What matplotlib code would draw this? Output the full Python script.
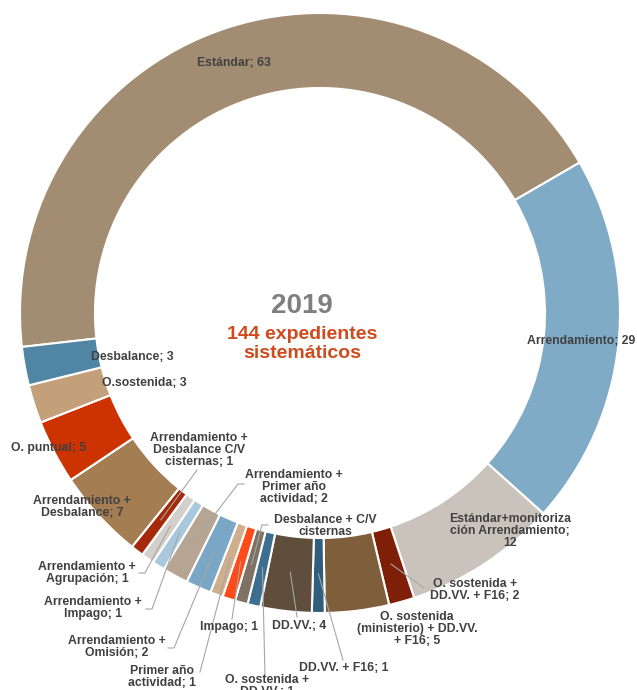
import numpy as np
import matplotlib.pyplot as plt

plt.rcParams['font.family'] = ['Liberation Sans', 'DejaVu Sans']

# ---------------------------------------------------
# Datos (orden horario desde "Estándar")
# ---------------------------------------------------
categorias = [
    "Estándar", "Arrendamiento", "Estándar+monitorización Arrendamiento",
    "O. sostenida + DD.VV. + F16", "O. sostenida (ministerio) + DD.VV. + F16",
    "DD.VV. + F16", "DD.VV.", "O. sostenida + DD.VV.",
    "Desbalance + C/V cisternas", "Impago", "Primer año actividad",
    "Arrendamiento + Omisión", "Arrendamiento + Primer año actividad",
    "Arrendamiento + Impago", "Arrendamiento + Agrupación",
    "Arrendamiento + Desbalance C/V cisternas", "Arrendamiento + Desbalance",
    "O. puntual", "O.sostenida", "Desbalance",
]
valores = [63, 29, 12, 2, 5, 1, 4, 1, 1, 1, 1, 2, 2, 1, 1, 1, 7, 5, 3, 3]
etiquetas = [
    "Estándar; 63", "Arrendamiento; 29",
    "Estándar+monitoriza\nción Arrendamiento;\n12",
    "O. sostenida +\nDD.VV. + F16; 2",
    "O. sostenida\n(ministerio) + DD.VV.\n+ F16; 5",
    "DD.VV. + F16; 1", "DD.VV.; 4", "O. sostenida +\nDD.VV.; 1",
    "Desbalance + C/V\ncisternas", "Impago; 1", "Primer año\nactividad; 1",
    "Arrendamiento +\nOmisión; 2", "Arrendamiento +\nPrimer año\nactividad; 2",
    "Arrendamiento +\nImpago; 1", "Arrendamiento +\nAgrupación; 1",
    "Arrendamiento +\nDesbalance C/V\ncisternas; 1",
    "Arrendamiento +\nDesbalance; 7",
    "O. puntual; 5", "O.sostenida; 3", "Desbalance; 3",
]
colores = [
    "#A38D72", "#7FABC7", "#C9C3BB", "#7F1F08", "#7E5E3B",
    "#2F5F7D", "#5F4E3C", "#3B6E8F", "#7F7264", "#FF4A1A",
    "#CFAE8D", "#7BA7C7", "#B5A592", "#A9C8DD", "#D3CFCA",
    "#A52A0A", "#A57D52", "#CC3300", "#C4A07A", "#5085A3",
]

# posiciones de etiquetas (px de la imagen de referencia)
pos_etiquetas = [
    (234, 63), (581, 341), (510, 531), (475, 590), (417, 629),
    (344, 668), (299, 626), (267, 686), (325, 526), (229, 627),
    (162, 677), (117, 647), (294, 487), (93, 608), (87, 573),
    (199, 450), (82, 507), (49, 448), (144, 383), (132, 357),
]
# líneas guía: puntos de arranque junto a la etiqueta
guias = {
    3: [(424, 588)], 5: [(343, 660)], 6: [(297, 617)], 7: [(265, 676)],
    8: [(268, 525), (262, 525)], 9: [(232, 619)], 10: [(200, 672)],
    11: [(168, 648), (174, 648)], 12: [(244, 484), (238, 484)],
    13: [(146, 609), (152, 609)], 14: [(139, 573), (145, 573)],
    15: [(197, 470)],
}

W, H = 637, 690
CX, CY, R = 320, 313, 300


def px(x, y):
    return (x - CX) / R, (CY - y) / R


fig = plt.figure(figsize=(W / 100, H / 100), dpi=100)
ax = fig.add_axes([0, 0, 1, 1])

wedges, _ = ax.pie(
    valores, colors=colores, startangle=186.5, counterclock=False,
    radius=1.0, wedgeprops=dict(width=0.25, edgecolor="white", linewidth=1.5),
)
ax.set_xlim(-CX / R, (W - CX) / R)
ax.set_ylim(-(H - CY) / R, CY / R)
ax.set_aspect("equal")
ax.axis("off")

for i, w in enumerate(wedges):
    if i in guias:
        ang = np.deg2rad((w.theta1 + w.theta2) / 2)
        pts = [px(*p) for p in guias[i]] + [(0.87 * np.cos(ang), 0.87 * np.sin(ang))]
        xs, ys = zip(*pts)
        ax.plot(xs, ys, color="#A6A6A6", lw=0.8, zorder=3)

for txt, p in zip(etiquetas, pos_etiquetas):
    x, y = px(*p)
    ax.text(x, y, txt, ha="center", va="center", multialignment="center",
            fontsize=8.8, fontweight="bold", color="#404040", zorder=4,
            linespacing=1.05)

ax.text(*px(302, 306), "2019", ha="center", va="center", fontsize=20,
        fontweight="bold", color="#7F7F7F")
ax.text(*px(302, 344), "144 expedientes\nsistemáticos", ha="center", va="center",
        fontsize=14, fontweight="bold", color="#CF4A1C", linespacing=1.2)

fig.savefig("out.png", dpi=100)
